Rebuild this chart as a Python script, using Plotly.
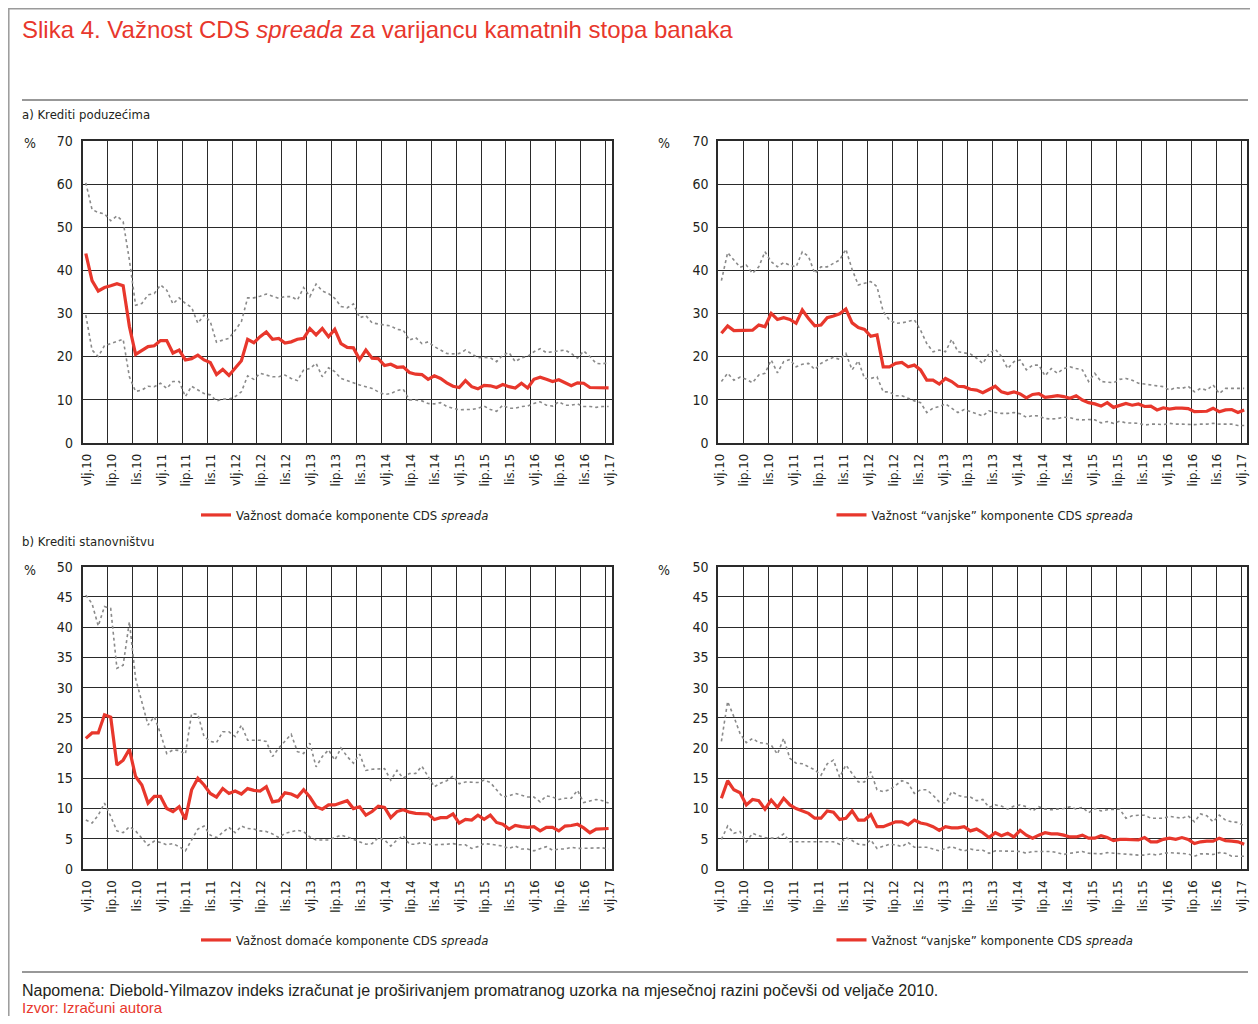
import plotly.graph_objects as go
from plotly.subplots import make_subplots

# stranica ima rub od 8 px, pa je slika manja za 16 px
PAGE = 8
W, H = 1258 - 2 * PAGE, 1024 - 2 * PAGE

tick_labels = ["vlj.10", "lip.10", "lis.10", "vlj.11", "lip.11", "lis.11",
               "vlj.12", "lip.12", "lis.12", "vlj.13", "lip.13", "lis.13",
               "vlj.14", "lip.14", "lis.14", "vlj.15", "lip.15", "lis.15",
               "vlj.16", "lip.16", "lis.16", "vlj.17"]
# mjesecni podaci, veljaca 2010. - veljaca 2017. (85 mjeseci)
months = list(range(85))

# a) krediti poduzecima - domaca komponenta
a_dom = [43.9, 37.6, 35.2, 36.0, 36.4, 36.9, 36.4, 27.0, 20.5, 21.5,
         22.3, 22.5, 23.7, 23.7, 20.8, 21.5, 19.2, 19.5, 20.3, 19.2,
         18.6, 15.8, 17.0, 15.6, 17.4, 19.0, 24.0, 23.2, 24.6, 25.7,
         24.0, 24.2, 23.1, 23.4, 24.0, 24.2, 26.5, 25.0, 26.5, 24.6,
         26.3, 23.0, 22.1, 22.0, 19.3, 21.5, 19.6, 19.5, 17.9, 18.2,
         17.5, 17.6, 16.3, 15.9, 15.8, 14.7, 15.5, 14.9, 13.9, 13.1,
         12.8, 14.4, 13.0, 12.5, 13.3, 13.2, 12.8, 13.5, 13.0, 12.7,
         13.8, 12.7, 14.7, 15.2, 14.7, 14.2, 14.6, 14.0, 13.2, 13.9,
         13.8, 12.8, 12.8, 12.8, 12.7]
a_dom_hi = [60.3, 54.1, 53.4, 53.1, 51.5, 52.6, 51.3, 42.4, 31.9, 32.3,
            34.3, 34.6, 36.6, 35.4, 32.2, 33.6, 32.3, 31.4, 27.7, 29.6,
            28.1, 23.3, 23.8, 24.2, 26.1, 28.1, 33.6, 33.6, 34.0, 34.5,
            34.0, 33.5, 33.9, 33.9, 33.1, 36.0, 33.9, 36.8, 35.2, 34.6,
            33.5, 31.6, 31.3, 32.2, 29.0, 29.5, 27.8, 27.5, 27.3, 27.1,
            26.3, 26.1, 23.8, 24.4, 23.0, 23.4, 22.3, 21.5, 20.7, 20.6,
            20.7, 21.5, 20.5, 19.7, 19.8, 19.7, 18.8, 20.3, 20.9, 18.8,
            19.7, 20.0, 21.1, 21.8, 20.9, 21.1, 21.3, 21.5, 20.7, 19.6,
            21.3, 20.0, 18.4, 18.3, 18.6]
a_dom_lo = [29.6, 21.5, 20.0, 22.5, 23.0, 23.5, 24.0, 15.3, 11.9, 12.2,
            13.1, 13.0, 13.8, 12.6, 14.2, 14.2, 10.7, 13.1, 12.2, 11.4,
            11.1, 9.7, 10.1, 10.1, 10.7, 11.8, 15.5, 14.7, 16.1, 15.7,
            15.3, 15.3, 15.7, 14.9, 14.4, 16.9, 17.2, 18.4, 15.3, 17.4,
            16.5, 14.9, 14.4, 13.8, 13.4, 13.0, 12.6, 11.8, 11.2, 11.4,
            12.1, 12.4, 9.9, 9.9, 9.7, 9.1, 9.0, 9.3, 8.4, 8.0,
            7.6, 7.7, 7.7, 8.0, 8.5, 7.7, 7.3, 8.7, 8.0, 8.0,
            8.4, 8.5, 9.1, 9.5, 8.7, 8.5, 9.5, 8.7, 8.7, 9.0,
            8.4, 8.4, 8.2, 8.4, 8.4]

# a) krediti poduzecima - "vanjska" komponenta
a_ext = [25.4, 27.1, 26.0, 26.0, 26.0, 26.1, 27.3, 26.9, 30.0, 28.6,
         29.0, 28.6, 27.7, 30.8, 28.8, 27.1, 27.3, 29.0, 29.4, 29.9,
         31.0, 27.8, 26.7, 26.3, 24.7, 25.0, 17.6, 17.6, 18.4, 18.6,
         17.6, 18.0, 16.9, 14.5, 14.5, 13.6, 14.9, 14.2, 13.1, 13.0,
         12.4, 12.2, 11.6, 12.4, 13.1, 11.8, 11.4, 11.8, 11.3, 10.4,
         11.2, 11.4, 10.5, 10.7, 10.9, 10.7, 10.3, 10.9, 9.9, 9.3,
         9.0, 8.5, 9.3, 8.2, 8.7, 9.1, 8.7, 9.0, 8.4, 8.5,
         7.6, 8.1, 7.8, 8.0, 8.0, 7.9, 7.2, 7.2, 7.3, 8.0,
         7.2, 7.6, 7.7, 7.0, 7.6]
a_ext_hi = [37.6, 44.1, 42.4, 40.7, 41.2, 39.3, 40.8, 44.3, 42.0, 40.8,
            41.8, 41.2, 40.8, 44.3, 43.2, 39.3, 40.8, 40.8, 41.6, 42.4,
            44.9, 40.2, 36.6, 37.0, 37.4, 36.2, 30.4, 28.5, 27.7, 27.8,
            28.1, 28.5, 26.1, 23.0, 21.1, 21.5, 21.1, 24.0, 21.1, 20.9,
            20.6, 19.6, 18.4, 20.7, 21.7, 20.0, 17.2, 18.8, 19.2, 16.9,
            18.0, 18.0, 15.5, 17.2, 16.1, 17.2, 17.6, 17.2, 16.9, 14.2,
            16.1, 14.2, 14.0, 13.9, 14.7, 14.9, 14.5, 13.8, 13.6, 13.4,
            13.1, 13.0, 12.2, 12.8, 12.6, 13.1, 11.8, 12.6, 12.2, 13.4,
            11.4, 12.6, 12.6, 12.6, 12.6]
a_ext_lo = [14.2, 16.1, 14.5, 15.2, 14.7, 13.9, 15.7, 16.1, 19.2, 16.2,
            18.8, 19.3, 17.6, 18.2, 18.4, 17.0, 18.4, 19.2, 19.8, 19.3,
            20.7, 16.9, 19.0, 14.9, 14.9, 15.3, 11.8, 11.8, 10.9, 10.9,
            10.3, 9.7, 9.3, 7.0, 8.0, 8.4, 9.0, 8.0, 7.0, 7.7,
            7.2, 6.7, 6.2, 7.4, 7.0, 6.8, 6.8, 7.0, 6.7, 5.9,
            6.3, 6.2, 5.6, 5.5, 5.6, 5.9, 5.8, 5.4, 5.3, 5.4,
            5.3, 4.6, 4.9, 4.5, 5.0, 4.6, 4.6, 4.5, 4.1, 4.3,
            4.3, 4.2, 4.5, 4.3, 4.3, 4.2, 4.2, 4.3, 4.3, 4.5,
            4.3, 4.3, 4.3, 4.0, 4.0]

# b) krediti stanovnistvu - domaca komponenta
b_dom = [21.6, 22.5, 22.5, 25.5, 25.1, 17.2, 18.0, 19.8, 15.3, 13.9,
         10.9, 12.0, 12.0, 10.0, 9.5, 10.3, 8.2, 13.1, 15.0, 13.9,
         12.5, 11.9, 13.3, 12.5, 12.9, 12.4, 13.3, 13.0, 12.9, 13.6,
         11.1, 11.3, 12.6, 12.4, 11.9, 13.1, 11.9, 10.3, 9.9, 10.6,
         10.6, 10.9, 11.3, 10.0, 10.3, 8.9, 9.5, 10.4, 10.2, 8.5,
         9.5, 9.8, 9.4, 9.2, 9.2, 9.1, 8.2, 8.5, 8.5, 9.1,
         7.6, 8.2, 8.1, 8.9, 8.2, 8.9, 7.7, 7.4, 6.6, 7.2,
         7.0, 6.9, 7.0, 6.3, 6.9, 6.9, 6.3, 7.1, 7.2, 7.4,
         6.8, 6.0, 6.6, 6.7, 6.7]
b_dom_hi = [45.3, 43.9, 40.2, 43.4, 43.1, 33.2, 33.7, 40.9, 31.5, 27.6,
            23.8, 25.2, 22.4, 19.1, 19.7, 19.6, 19.0, 25.7, 25.6, 21.9,
            21.1, 20.9, 22.7, 22.7, 21.9, 23.8, 21.3, 21.3, 21.3, 21.1,
            18.6, 20.0, 21.1, 22.3, 19.4, 19.1, 20.8, 16.9, 18.6, 19.7,
            18.0, 20.0, 18.6, 17.5, 19.0, 16.3, 16.5, 16.5, 16.6, 14.7,
            16.3, 15.0, 15.8, 15.8, 17.0, 15.3, 13.6, 14.2, 14.6, 15.4,
            14.1, 14.4, 14.3, 14.3, 14.7, 14.3, 13.1, 11.9, 12.1, 12.5,
            12.2, 11.9, 11.9, 11.1, 12.1, 11.9, 11.5, 11.7, 11.7, 13.0,
            11.0, 11.3, 11.5, 11.3, 10.9]
b_dom_lo = [8.1, 7.6, 8.9, 10.9, 8.7, 6.3, 6.0, 7.0, 6.3, 5.1,
            3.9, 4.6, 4.4, 4.0, 4.2, 3.7, 3.0, 4.8, 6.6, 7.1,
            5.6, 5.2, 6.0, 6.9, 6.0, 7.1, 6.7, 6.6, 6.3, 6.2,
            5.8, 5.2, 5.9, 6.2, 6.4, 6.2, 5.3, 4.8, 4.8, 4.8,
            5.2, 5.6, 5.3, 4.9, 4.5, 4.1, 4.2, 5.2, 4.8, 3.8,
            4.8, 5.5, 4.1, 4.1, 4.4, 4.1, 4.0, 4.0, 4.1, 4.2,
            4.0, 4.0, 3.4, 3.7, 4.2, 4.1, 4.0, 3.8, 3.4, 3.8,
            3.3, 3.3, 3.0, 3.3, 3.7, 3.1, 3.3, 3.3, 3.6, 3.4,
            3.4, 3.4, 3.4, 3.5, 3.3]

# b) krediti stanovnistvu - "vanjska" komponenta
b_ext = [11.7, 14.6, 13.1, 12.6, 10.6, 11.5, 11.3, 9.9, 11.4, 10.2,
         11.7, 10.6, 10.0, 9.6, 9.2, 8.4, 8.4, 9.6, 9.4, 8.2,
         8.4, 9.6, 8.1, 8.1, 9.0, 7.0, 7.0, 7.4, 7.8, 7.8,
         7.3, 8.1, 7.6, 7.4, 7.0, 6.4, 7.0, 6.8, 6.8, 7.0,
         6.3, 6.6, 6.0, 5.2, 6.0, 5.5, 5.9, 5.3, 6.4, 5.6,
         5.1, 5.6, 6.0, 5.8, 5.8, 5.6, 5.3, 5.3, 5.6, 5.1,
         5.1, 5.5, 5.2, 4.7, 4.9, 4.9, 4.8, 4.8, 5.2, 4.5,
         4.5, 4.9, 5.1, 4.9, 5.2, 4.9, 4.2, 4.5, 4.6, 4.6,
         5.1, 4.7, 4.6, 4.5, 4.1]
b_ext_hi = [21.1, 27.7, 25.2, 22.4, 20.9, 21.6, 20.9, 20.8, 20.5, 19.0,
            21.6, 18.3, 17.5, 17.4, 16.9, 16.4, 15.5, 17.4, 18.0, 15.2,
            17.2, 15.8, 14.4, 14.4, 16.1, 13.1, 12.8, 13.1, 13.9, 14.6,
            14.2, 12.5, 13.1, 13.1, 12.2, 11.1, 10.9, 12.8, 12.2, 11.9,
            11.9, 11.3, 11.5, 10.2, 10.6, 10.4, 9.9, 10.4, 10.6, 10.3,
            9.6, 10.3, 9.9, 9.8, 9.9, 10.0, 10.3, 9.9, 10.2, 9.3,
            10.0, 9.6, 9.8, 9.9, 9.9, 8.4, 8.8, 8.9, 8.9, 8.4,
            8.4, 8.4, 8.7, 8.5, 8.4, 8.8, 7.8, 9.1, 8.8, 7.8,
            8.9, 8.1, 7.8, 7.7, 7.1]
b_ext_lo = [4.9, 7.1, 5.9, 6.2, 4.5, 5.9, 5.5, 5.2, 5.1, 5.1,
            5.8, 4.5, 4.5, 4.5, 4.5, 4.5, 4.5, 4.6, 4.5, 4.1,
            5.2, 4.7, 4.1, 4.0, 4.8, 3.4, 3.7, 4.1, 4.0, 3.7,
            4.4, 3.6, 3.6, 3.6, 3.3, 3.0, 3.4, 3.7, 3.3, 3.0,
            3.3, 3.1, 3.1, 2.6, 3.0, 3.0, 2.9, 3.0, 2.9, 2.6,
            2.9, 2.9, 2.9, 2.9, 2.7, 2.4, 2.6, 2.7, 2.9, 2.6,
            2.6, 2.5, 2.7, 2.6, 2.6, 2.5, 2.4, 2.3, 2.3, 2.5,
            2.3, 2.6, 2.7, 2.6, 2.5, 2.5, 2.1, 2.5, 2.5, 2.4,
            2.7, 2.6, 2.1, 2.1, 2.1]

RED = "#e8372c"
GREY = "#8a8a8a"
INK = "#231f20"
NARROW = "Liberation Sans Narrow, DejaVu Sans Condensed, Arial Narrow, sans-serif"
REGULAR = "Liberation Sans, Arial, Helvetica, sans-serif"


def px(x):
    # x na stranici -> paper
    return (x - PAGE) / W


def py(y):
    return 1 - (y - PAGE) / H


panels = [
    (1, 1, a_dom, a_dom_hi, a_dom_lo, "Važnost domaće komponente CDS <i>spreada</i>", "legend"),
    (1, 2, a_ext, a_ext_hi, a_ext_lo, "Važnost “vanjske” komponente CDS <i>spreada</i>", "legend2"),
    (2, 1, b_dom, b_dom_hi, b_dom_lo, "Važnost domaće komponente CDS <i>spreada</i>", "legend3"),
    (2, 2, b_ext, b_ext_hi, b_ext_lo, "Važnost “vanjske” komponente CDS <i>spreada</i>", "legend4"),
]

fig = make_subplots(rows=2, cols=2)

for row, col, main, hi, lo, name, leg in panels:
    for band in (hi, lo):
        fig.add_trace(go.Scatter(x=months, y=band, mode="lines", showlegend=False,
                                 line=dict(color=GREY, width=1.6, dash="dot")),
                      row=row, col=col)
    fig.add_trace(go.Scatter(x=months, y=main, mode="lines", name=name, legend=leg,
                             line=dict(color=RED, width=3.2)),
                  row=row, col=col)

# polozaj panela (pikseli na stranici)
xdom = {1: [px(82.7), px(611.7)], 2: [px(718.3), px(1247.3)]}
ydom = {1: [py(442.7), py(141)], 2: [py(869), py(566.7)]}
yrng = {1: ([0, 70], 10), 2: ([0, 50], 5)}
shift = {1: 4, 2: 1}

for row in (1, 2):
    for col in (1, 2):
        fig.update_xaxes(domain=xdom[col], range=[-0.5, 84.5], automargin=False,
                         tickmode="array", tickvals=[4 * k - 0.5 for k in range(22)],
                         ticktext=tick_labels, tickangle=-90, ticklabelshift=shift[col],
                         ticklabeloverflow="allow",
                         ticks="outside", ticklen=4, tickcolor="rgba(0,0,0,0)",
                         showgrid=True, gridcolor="#2a2a2a", gridwidth=1.3,
                         showline=True, linecolor="#2a2a2a", linewidth=2, mirror=True,
                         zeroline=False, tickfont=dict(family=NARROW, size=13, color=INK),
                         row=row, col=col)
        rng, step = yrng[row]
        fig.update_yaxes(domain=ydom[row], range=rng, dtick=step, tick0=0, automargin=False,
                         ticks="outside", ticklen=5, tickcolor="rgba(0,0,0,0)",
                         showgrid=True, gridcolor="#2a2a2a", gridwidth=1.3,
                         showline=True, linecolor="#2a2a2a", linewidth=2, mirror=True,
                         zeroline=False, tickfont=dict(family=NARROW, size=14, color=INK),
                         row=row, col=col)

leg_style = dict(orientation="h", xanchor="center", yanchor="middle",
                 bgcolor="rgba(0,0,0,0)", itemwidth=30,
                 font=dict(family=NARROW, size=13, color=INK))

annotations = [
    dict(x=px(20), y=py(29), text="Slika 4. Važnost CDS <i>spreada</i> za varijancu kamatnih stopa banaka",
         font=dict(family=REGULAR, size=24, color=RED)),
    dict(x=px(20), y=py(115), text="a) Krediti poduzećima", font=dict(family=NARROW, size=13, color=INK)),
    dict(x=px(20), y=py(541), text="b) Krediti stanovništvu", font=dict(family=NARROW, size=13, color=INK)),
    dict(x=px(22), y=py(143), text="%", font=dict(family=NARROW, size=14, color=INK)),
    dict(x=px(656), y=py(143), text="%", font=dict(family=NARROW, size=14, color=INK)),
    dict(x=px(22), y=py(570), text="%", font=dict(family=NARROW, size=14, color=INK)),
    dict(x=px(656), y=py(570), text="%", font=dict(family=NARROW, size=14, color=INK)),
    dict(x=px(20), y=py(990), text="Napomena: Diebold-Yilmazov indeks izračunat je proširivanjem promatranog "
         "uzorka na mjesečnoj razini počevši od veljače 2010.", font=dict(family=REGULAR, size=16, color=INK)),
    dict(x=px(20), y=py(1007), text="Izvor: Izračuni autora", font=dict(family=REGULAR, size=15, color=RED)),
]
for a in annotations:
    a.update(xref="paper", yref="paper", xanchor="left", yanchor="middle", showarrow=False)

shapes = [
    dict(type="rect", xref="paper", yref="paper", x0=px(8.8), x1=px(1280), y0=py(1060), y1=py(8.8),
         line=dict(color="#9a9a9a", width=1.5)),
    dict(type="line", xref="paper", yref="paper", x0=px(22), x1=px(1248), y0=py(100), y1=py(100),
         line=dict(color="#333333", width=1.2)),
    dict(type="line", xref="paper", yref="paper", x0=px(22), x1=px(1248), y0=py(972), y1=py(972),
         line=dict(color="#333333", width=1.2)),
]

fig.update_layout(
    width=W, height=H,
    margin=dict(l=0, r=0, t=0, b=0, autoexpand=False),
    paper_bgcolor="white", plot_bgcolor="white",
    legend=dict(leg_style, x=px(345), y=py(515)),
    legend2=dict(leg_style, x=px(985), y=py(515)),
    legend3=dict(leg_style, x=px(345), y=py(940)),
    legend4=dict(leg_style, x=px(985), y=py(940)),
    annotations=annotations,
    shapes=shapes,
)

fig.write_html("out.html")
